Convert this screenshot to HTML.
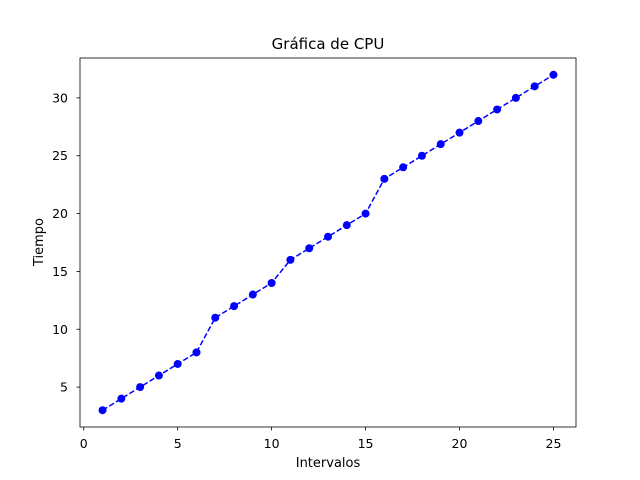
<!DOCTYPE html>
<html><head><meta charset="utf-8"><style>
body{margin:0;background:#fff;}
svg{display:block;font-family:"DejaVu Sans","Liberation Sans",sans-serif;}
</style></head><body>
<svg id="chart" width="640" height="480">
<rect width="640" height="480" fill="#fff"/>
<text x="328" y="49" text-anchor="middle" font-size="15">Gráfica de CPU</text>
<text x="328" y="467" text-anchor="middle" font-size="13">Intervalos</text>
<text transform="translate(43,242) rotate(-90)" text-anchor="middle" font-size="13">Tiempo</text>
<g id="xt"></g><g id="yt"></g><g id="series"></g>
<rect x="80" y="58" width="496" height="369" fill="none" stroke="#000" stroke-width="0.8"/>
</svg>
<script>
const intervals=[1,2,3,4,5,6,7,8,9,10,11,12,13,14,15,16,17,18,19,20,21,22,23,24,25];
const tiempo=[3,4,5,6,7,8,11,12,13,14,16,17,18,19,20,23,24,25,26,27,28,29,30,31,32];
const xTicks=[0,5,10,15,20,25];
const yTicks=[5,10,15,20,25,30];
const NS="http://www.w3.org/2000/svg";
const L=80,R=576,T=58,B=427;
const xmin=Math.min(...intervals),xmax=Math.max(...intervals),xm=(xmax-xmin)*0.05;
const ymin=Math.min(...tiempo),ymax=Math.max(...tiempo),ym=(ymax-ymin)*0.05;
const sx=v=>L+(v-(xmin-xm))/((xmax+xm)-(xmin-xm))*(R-L);
const sy=v=>B-(v-(ymin-ym))/((ymax+ym)-(ymin-ym))*(B-T);
function mk(t,a,p){const e=document.createElementNS(NS,t);for(const k in a)e.setAttribute(k,a[k]);p.appendChild(e);return e;}
const xt=document.getElementById('xt'),yt=document.getElementById('yt'),sg=document.getElementById('series');
xTicks.forEach(v=>{const x=sx(v);
const l=mk('line',{x1:x,x2:x,y1:B,y2:B+3.5,stroke:'#000','stroke-width':0.8},xt);


const t=mk('text',{x:x,y:B+21,'text-anchor':'middle','font-size':12.5},xt);t.textContent=v;

});
yTicks.forEach(v=>{const y=sy(v);
const l=mk('line',{x1:L-3.5,x2:L,y1:y,y2:y,stroke:'#000','stroke-width':0.8},yt);


const t=mk('text',{x:L-12,y:y+4.5,'text-anchor':'end','font-size':12.5},yt);t.textContent=v;

});
const pts=intervals.map((v,i)=>sx(v)+','+sy(tiempo[i])).join(' ');
const pl=mk('polyline',{points:pts,fill:'none',stroke:'#0000ff','stroke-width':1.5,'stroke-dasharray':'5.5,2.4'},sg);


intervals.forEach((v,i)=>{const c=mk('circle',{cx:sx(v),cy:sy(tiempo[i]),r:4,fill:'#0000ff'},sg);

});
</script>
</body></html>
